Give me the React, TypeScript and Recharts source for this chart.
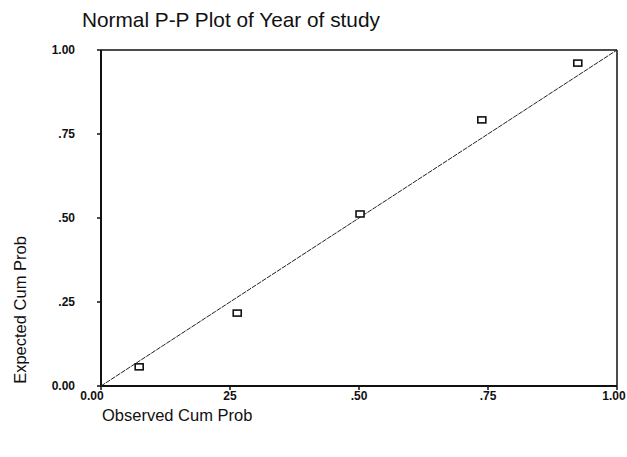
import React from "react";
import {
  ScatterChart,
  Scatter,
  XAxis,
  YAxis,
  ReferenceLine,
} from "recharts";

const observed = [0.074, 0.264, 0.502, 0.738, 0.924];
const expected = [0.057, 0.217, 0.512, 0.792, 0.961];
const tickValues = [0, 0.25, 0.5, 0.75, 1];
const xTickLabels = ["0.00", "25", ".50", ".75", "1.00"];
const yTickLabels = ["0.00", ".25", ".50", ".75", "1.00"];

const points = observed.map((x, i) => ({ x, y: expected[i] }));

const FONT = "'Liberation Sans', Arial, sans-serif";

const BoxShape = (props: any) => {
  const { cx, cy } = props;
  if (cx == null || cy == null) return null;
  return (
    <rect
      x={cx - 4}
      y={cy - 3}
      width={8}
      height={6}
      fill="#fff"
      stroke="#111"
      strokeWidth={1.6}
    />
  );
};

const XTick = (props: any) => {
  const { x, y, payload } = props;
  const idx = tickValues.indexOf(payload.value);
  const label = xTickLabels[idx] ?? "";
  const shift = idx === 0 ? -9 : idx === tickValues.length - 1 ? -3 : 0;
  return (
    <text
      x={x + shift}
      y={y + 4}
      textAnchor="middle"
      dominantBaseline="central"
      fill="#111"
      fontSize={12}
      fontFamily={FONT}
      fontWeight={600}
    >
      {label}
    </text>
  );
};

export default function App() {
  return (
    <div style={{ width: 627, height: 457, overflow: "hidden", background: "#fff" }}>
      <style>{"html,body{overflow:hidden;margin:0;padding:0;}"}</style>
      <div style={{ position: "relative", left: 8, top: 8, width: 619, height: 449, fontFamily: FONT }}>
        <div
          style={{
            position: "absolute",
            left: 74,
            top: 0,
            fontSize: 20.8,
            color: "#111",
            whiteSpace: "nowrap",
            lineHeight: "24px",
          }}
        >
          Normal P-P Plot of Year of study
        </div>
        <div
          style={{
            position: "absolute",
            left: 94,
            top: 397,
            fontSize: 16.5,
            color: "#111",
            whiteSpace: "nowrap",
            lineHeight: "20px",
          }}
        >
          Observed Cum Prob
        </div>
        <div
          style={{
            position: "absolute",
            left: 12,
            top: 302,
            fontSize: 16.5,
            color: "#111",
            whiteSpace: "nowrap",
            lineHeight: "20px",
            transform: "translate(-50%, -50%) rotate(-90deg)",
          }}
        >
          Expected Cum Prob
        </div>
        <ScatterChart
          width={619}
          height={449}
          margin={{ top: 42, right: 10, bottom: 41, left: 33 }}
          style={{ position: "absolute", left: 0, top: 0 }}
        >
          <XAxis
            type="number"
            dataKey="x"
            domain={[0, 1]}
            ticks={tickValues}
            height={30}
            tickSize={4}
            tickMargin={2}
            axisLine={{ stroke: "#111", strokeWidth: 2 }}
            tickLine={{ stroke: "#111", strokeWidth: 1.5 }}
            tick={<XTick />}
            allowDataOverflow
          />
          <YAxis
            type="number"
            dataKey="y"
            domain={[0, 1]}
            ticks={tickValues}
            width={60}
            tickSize={4}
            tickMargin={22}
            axisLine={{ stroke: "#111", strokeWidth: 2 }}
            tickLine={{ stroke: "#111", strokeWidth: 1.5 }}
            tick={{ fill: "#111", fontSize: 12, fontFamily: FONT, fontWeight: 600 }}
            tickFormatter={(v: number) => yTickLabels[tickValues.indexOf(v)] ?? ""}
            allowDataOverflow
          />
          <ReferenceLine y={1} stroke="#111" strokeWidth={1.5} />
          <ReferenceLine x={1} stroke="#111" strokeWidth={1.5} />
          <ReferenceLine
            segment={[
              { x: 0, y: 0 },
              { x: 1, y: 1 },
            ]}
            stroke="#222"
            strokeWidth={1}
            strokeDasharray="5 1"
          />
          <Scatter data={points} shape={BoxShape} isAnimationActive={false} />
        </ScatterChart>
      </div>
    </div>
  );
}
